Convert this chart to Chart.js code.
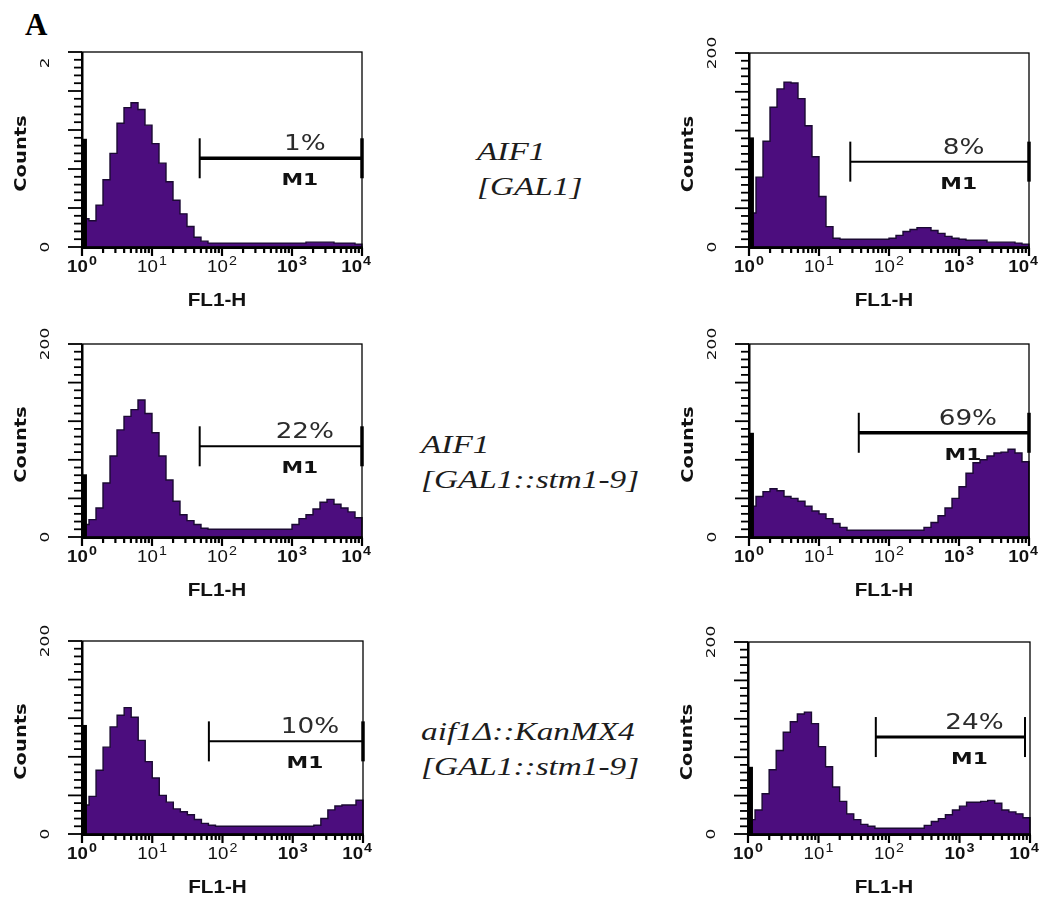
<!DOCTYPE html>
<html>
<head>
<meta charset="utf-8">
<title>FL1-H histograms</title>
<script src="https://cdn.jsdelivr.net/npm/chart.js@4.4.1/dist/chart.umd.min.js"></script>
<style>
  html, body { margin: 0; padding: 0; background: #fff; }
  body { width: 1049px; height: 899px; position: relative; overflow: hidden; }
  canvas { position: absolute; }
  #panelA { position: absolute; left: 25px; top: 9px; font: bold 31px "Liberation Serif", serif; line-height: 1; color: #000; }
  .strain { position: absolute; font-family: "Liberation Serif", serif; font-style: italic; font-size: 26px;
            line-height: 35px; color: #1c1c1c; white-space: nowrap; transform: scaleX(1.28); transform-origin: 0 0; }
</style>
</head>
<body>
<div id="panelA">A</div>
<div class="strain" style="left:477px; top:134px;">AIF1<br>[GAL1]</div>
<div class="strain" style="left:421px; top:427px;">AIF1<br>[GAL1::stm1-9]</div>
<div class="strain" style="left:421px; top:714px;">aif1Δ::KanMX4<br>[GAL1::stm1-9]</div>

<script>
// channel positions, in decades (10 channels per decade, 10^0 .. 10^4)
const channelExp = [0.0, 0.1, 0.2, 0.3, 0.4, 0.5, 0.6, 0.7, 0.8, 0.9,
                    1.0, 1.1, 1.2, 1.3, 1.4, 1.5, 1.6, 1.7, 1.8, 1.9,
                    2.0, 2.1, 2.2, 2.3, 2.4, 2.5, 2.6, 2.7, 2.8, 2.9,
                    3.0, 3.1, 3.2, 3.3, 3.4, 3.5, 3.6, 3.7, 3.8, 3.9];

// counts per channel
const gal1Left = [29, 27, 43, 69, 96, 127, 143, 148, 141, 125,
                  106, 86, 67, 48, 34, 21, 10, 6, 4, 4,
                  4, 4, 4, 4, 4, 4, 4, 4, 4, 4,
                  4, 4, 5, 5, 5, 5, 4, 4, 4, 3];
const gal1Right = [35, 72, 109, 144, 163, 170, 169, 153, 125, 93,
                   52, 21, 9, 8, 8, 8, 8, 8, 8, 8,
                   9, 12, 16, 18, 20, 20, 17, 14, 11, 9,
                   8, 7, 7, 7, 5, 5, 5, 5, 4, 3];
const stmLeft = [13, 18, 30, 56, 84, 111, 125, 132, 142, 128,
                 108, 84, 59, 37, 23, 17, 13, 9, 8, 8,
                 8, 8, 8, 8, 8, 8, 8, 8, 8, 8,
                 13, 19, 23, 29, 36, 39, 34, 30, 26, 20];
const stmRight = [32, 42, 47, 50, 48, 42, 40, 37, 32, 27,
                  24, 19, 14, 10, 7, 7, 7, 7, 7, 7,
                  7, 7, 7, 7, 7, 10, 15, 22, 30, 40,
                  52, 66, 77, 80, 84, 87, 88, 91, 87, 78];
const delLeft = [30, 39, 66, 90, 111, 123, 131, 121, 97, 75,
                 58, 40, 33, 26, 23, 20, 15, 11, 9, 8,
                 8, 8, 8, 8, 8, 8, 8, 8, 8, 8,
                 8, 8, 8, 9, 16, 25, 29, 30, 30, 35];
const delRight = [15, 25, 42, 67, 87, 106, 117, 125, 127, 115,
                  91, 70, 49, 34, 21, 15, 10, 8, 6, 6,
                  6, 6, 6, 6, 6, 9, 13, 16, 20, 25,
                  29, 33, 33, 34, 35, 32, 25, 23, 21, 17];

const panelCounts = [gal1Left, gal1Right, stmLeft, stmRight, delLeft, delRight];

// first (off-scale) channel: position and pile-up count
const firstChannelPos = 1.084;
const firstChannel = [111, 113, 65, 108, 113, 70];

// M1 gate: start, end (FL1-H) and drawn level (counts), with the gated percentage
const markerStart = [48, 28, 48, 37, 64, 65];
const markerEnd = [10000, 10000, 10000, 10000, 10000, 8500];
const markerLevel = [91, 88, 94, 108, 96, 101];
const markerPct = ['1%', '8%', '22%', '69%', '10%', '24%'];

// tick labels
const countTop = ['2', '200', '200', '200', '200', '200'];
const decades = [0, 1, 2, 3, 4];

// plot boxes on the page
const boxes = [
  { left: 82, top: 52, right: 362, bottom: 247 },
  { left: 749, top: 53, right: 1029, bottom: 247 },
  { left: 82, top: 344, right: 362, bottom: 537 },
  { left: 749, top: 344, right: 1029, bottom: 537 },
  { left: 82, top: 641, right: 363, bottom: 834 },
  { left: 748, top: 642, right: 1030, bottom: 834 }
];
const markerWidth = [3.5, 2, 2, 3.5, 2, 3];
const PAD = { left: 82, top: 52, right: 20, bottom: 65 };

function text(ctx, str, x, y, font, sx, align, base, rot) {
  ctx.save();
  ctx.translate(x, y);
  if (rot) ctx.rotate(rot);
  ctx.scale(sx, 1);
  ctx.font = font;
  ctx.textAlign = align;
  ctx.textBaseline = base;
  ctx.fillText(str, 0, 0);
  ctx.restore();
}

function textWidth(ctx, str, font, sx) {
  ctx.save();
  ctx.font = font;
  const w = ctx.measureText(str).width * sx;
  ctx.restore();
  return w;
}

// axes, ticks, labels and the M1 marker, all placed through the chart scales
const cytoFrame = {
  id: 'cytoFrame',
  afterDraw(chart, args, opts) {
    const i = opts.index;
    const { ctx, chartArea: a, scales: { x, y } } = chart;
    ctx.save();
    ctx.fillStyle = '#000';
    ctx.strokeStyle = '#000';
    ctx.lineCap = 'butt';

    // box
    ctx.lineWidth = 1.3;
    ctx.strokeRect(a.left, a.top, a.right - a.left, a.bottom - a.top);
    ctx.fillRect(a.left - 1, a.top, 2.5, a.bottom - a.top + 2);
    ctx.fillRect(a.left - 1, a.bottom - 0.5, a.right - a.left + 2, 2.5);

    // count ticks every 8, longer every 40
    for (let v = 0; v <= 200; v += 8) {
      const py = y.getPixelForValue(v);
      const len = v % 40 === 0 ? 14 : 8;
      ctx.fillRect(a.left - len, py - 0.9, len, 1.8);
    }

    // log ticks below the axis
    for (let d = 0; d <= 4; d++) {
      for (let m = 1; m <= 9; m++) {
        if (d === 4 && m > 1) break;
        const px = x.getPixelForValue(m * Math.pow(10, d));
        const len = m === 1 ? 8 : 5;
        ctx.fillRect(px - 1.1, a.bottom + 1, 2.2, len);
      }
    }

    // decade labels 10^n
    ctx.fillStyle = '#111';
    decades.forEach(d => {
      const heavy = (d === 0 || d >= 3) ? 'bold ' : '';
      const fBase = heavy + '17px "Liberation Sans", sans-serif';
      const fSup = heavy + '13px "Liberation Sans", sans-serif';
      const w1 = textWidth(ctx, '10', fBase, 1.1);
      const w2 = textWidth(ctx, String(d), fSup, 1.1);
      const px = x.getPixelForValue(Math.pow(10, d));
      let start = px - (w1 + w2 + 1) / 2;
      if (start + w1 + w2 + 1 > a.right + 9) start = a.right + 9 - (w1 + w2 + 1);
      text(ctx, '10', start, a.bottom + 25, fBase, 1.1, 'left', 'alphabetic');
      text(ctx, String(d), start + w1 + 1, a.bottom + 18, fSup, 1.1, 'left', 'alphabetic');
    });

    // count labels
    const fCount = '13px "DejaVu Sans", sans-serif';
    const w200 = textWidth(ctx, '200', fCount, 1.3);
    text(ctx, '0', a.left - 36, y.getPixelForValue(0), fCount, 1.3, 'center', 'middle', -Math.PI / 2);
    text(ctx, countTop[i], a.left - 36, y.getPixelForValue(200) + w200 / 2, fCount, 1.3, 'left', 'middle', -Math.PI / 2);

    // axis titles
    text(ctx, 'Counts', a.left - 60, (a.top + a.bottom) / 2 + 4,
         'bold 16px "DejaVu Sans", sans-serif', 1.22, 'center', 'middle', -Math.PI / 2);
    text(ctx, 'FL1-H', (a.left + a.right) / 2 - 5, a.bottom + 59,
         'bold 18px "Liberation Sans", sans-serif', 1.15, 'center', 'alphabetic');

    // M1 marker
    const x0 = x.getPixelForValue(markerStart[i]);
    const x1 = x.getPixelForValue(markerEnd[i]);
    const ly = y.getPixelForValue(markerLevel[i]);
    ctx.lineWidth = markerWidth[i];
    ctx.beginPath();
    ctx.moveTo(x0, ly);
    ctx.lineTo(x1, ly);
    ctx.stroke();
    ctx.lineWidth = 2;
    ctx.beginPath();
    ctx.moveTo(x0, ly - 20);
    ctx.lineTo(x0, ly + 20);
    ctx.stroke();
    ctx.lineWidth = markerEnd[i] >= 10000 ? 3.5 : 2;
    ctx.beginPath();
    ctx.moveTo(x1, ly - 20);
    ctx.lineTo(x1, ly + 20);
    ctx.stroke();

    const mid = (x0 + x1) / 2;
    ctx.fillStyle = '#2b2b2b';
    text(ctx, markerPct[i], mid + 24, ly - 8, '21px "DejaVu Sans", sans-serif', 1.25, 'center', 'alphabetic');
    ctx.fillStyle = '#111';
    text(ctx, 'M1', mid + 19, ly + 27, 'bold 15px "DejaVu Sans", sans-serif', 1.45, 'center', 'alphabetic');

    ctx.restore();
  }
};

boxes.forEach((b, i) => {
  const canvas = document.createElement('canvas');
  const w = b.right - b.left + PAD.left + PAD.right;
  const h = b.bottom - b.top + PAD.top + PAD.bottom;
  canvas.width = w;
  canvas.height = h;
  canvas.style.left = (b.left - PAD.left) + 'px';
  canvas.style.top = (b.top - PAD.top) + 'px';
  canvas.style.width = w + 'px';
  canvas.style.height = h + 'px';
  document.body.appendChild(canvas);

  const counts = panelCounts[i];
  const hist = channelExp.map((e, k) => ({ x: Math.pow(10, e), y: counts[k] }));
  hist.push({ x: 10000, y: counts[counts.length - 1] });
  hist.push({ x: 10000, y: 0 });

  new Chart(canvas, {
    type: 'line',
    data: {
      datasets: [
        {
          data: [{ x: firstChannelPos, y: 0 }, { x: firstChannelPos, y: firstChannel[i] }],
          borderColor: '#000',
          borderWidth: 5,
          pointRadius: 0,
          fill: false,
          clip: false
        },
        {
          data: hist,
          stepped: true,
          fill: 'origin',
          backgroundColor: '#4c0d7e',
          borderColor: '#1b0a33',
          borderWidth: 1.4,
          pointRadius: 0,
          clip: false
        }
      ]
    },
    options: {
      responsive: false,
      animation: false,
      events: [],
      layout: { padding: PAD },
      plugins: {
        legend: { display: false },
        tooltip: { enabled: false },
        cytoFrame: { index: i }
      },
      scales: {
        x: { type: 'logarithmic', min: 1, max: 10000, display: false },
        y: { type: 'linear', min: 0, max: 200, display: false }
      }
    },
    plugins: [cytoFrame]
  });
});
</script>
</body>
</html>
